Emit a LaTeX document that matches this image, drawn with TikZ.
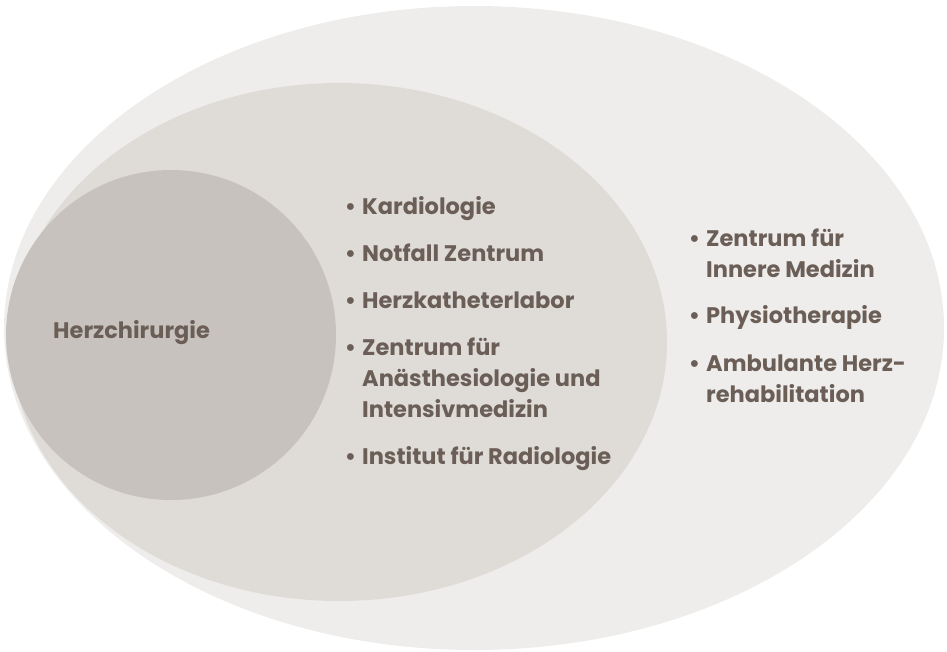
\documentclass[tikz,border=0pt]{standalone}
\usepackage{fontspec}
\setmainfont{Poppins}
\usetikzlibrary{positioning}
\definecolor{outerbg}{HTML}{EEEDEB}
\definecolor{midbg}{HTML}{DFDCD8}
\definecolor{innerbg}{HTML}{C7C2BD}
\definecolor{txtbrown}{HTML}{6B5E57}
\tikzset{
	listitem/.style={anchor=base west, align=left, inner sep=0pt, text=txtbrown,
		font=\fontsize{22.5}{31}\selectfont\bfseries},
}
\newcommand{\bul}{\llap{\textbullet\hspace{6pt}}}

\begin{document}
\begin{tikzpicture}[x=1pt, y=-1pt]
	\useasboundingbox (0,0) rectangle (947,651);
	% Bereiche
	\fill[outerbg] (474,328) ellipse [x radius=470, y radius=322];
	\fill[midbg] (339,342) ellipse [x radius=328, y radius=259];
	\fill[innerbg] (171,335) ellipse [x radius=165, y radius=165];
	
	\node[listitem] (chir) at (53,338) {Herzchirurgie};
	
	% base = letzte Zeile
	\node[listitem] (kardio) at (362,214) {\bul Kardiologie};
	\node[listitem] (notfall) at (362,261) {\bul Notfall Zentrum};
	\node[listitem] (katheter) at (362,308) {\bul Herzkatheterlabor};
	\node[listitem] (anaest) at (362,417) {\bul Zentrum für\\Anästhesiologie und\\Intensivmedizin};
	\node[listitem] (radio) at (362,464) {\bul Institut für Radiologie};
	
	\node[listitem] (innere) at (706,277) {\bul Zentrum für\\Innere Medizin};
	\node[listitem] (physio) at (706,323) {\bul Physiotherapie};
	\node[listitem] (reha) at (706,402) {\bul Ambulante Herz-\\rehabilitation};
\end{tikzpicture}
\end{document}
